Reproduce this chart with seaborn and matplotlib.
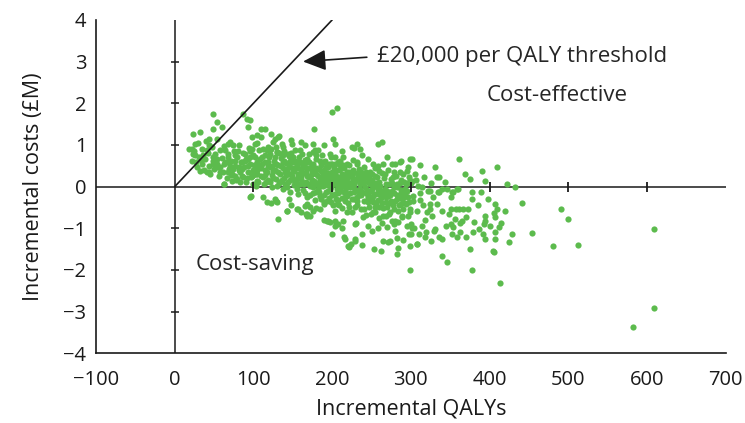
import matplotlib
matplotlib.use("Agg")
import matplotlib.pyplot as plt
import pandas as pd
import seaborn as sns

sns.set_style("white")
plt.rcParams['font.family'] = ['Open Sans', 'DejaVu Sans']

GREEN = "#5CBB4D"
INK = "#1a1a1a"

# simulated (QALY, cost £M) pairs, by region of the plane
left_cloud = [
    (48, 1.75), (53, 1.56), (60, 1.42), (48, 1.39), (32, 1.30), (23, 1.27), (26, 1.03), (18, 0.91),
    (22, 0.89), (23, 0.79), (26, 0.75), (27, 0.58), (33, 0.63), (36, 0.75), (41, 0.87), (43, 0.99),
    (44, 1.13), (32, 0.38), (41, 0.36), (44, 0.36), (49, 0.55), (54, 0.46), (49, 0.70), (54, 0.67),
    (58, 0.34), (62, 0.07), (64, 0.87), (68, 1.03), (74, 0.99), (77, 0.75), (87, 1.73), (92, 1.63),
    (93, 1.44), (96, 1.59), (66, 0.58), (70, 0.50), (74, 0.43), (81, 0.46), (86, 0.58), (68, 0.34),
    (77, 0.26), (83, 0.34), (87, 0.22), (73, 0.14), (79, 0.19), (83, 0.10), (89, 0.79), (93, 0.67),
    (98, 0.91), (102, 1.03), (105, 1.23), (98, 1.18), (93, 0.50), (100, 0.38), (105, 0.46), (98, 0.26),
    (105, 0.14), (100, 0.07), (96, -0.24), (63, 0.07),
    (22, 0.62), (25, 0.85), (28, 0.48), (30, 1.05), (31, 0.72), (34, 0.55), (35, 0.90), (37, 0.40),
    (39, 0.66), (40, 1.10), (42, 0.80), (44, 0.50), (45, 0.30), (47, 0.95), (48, 0.62), (50, 0.42),
    (51, 0.78), (53, 1.15), (54, 0.55), (56, 0.25), (57, 0.88), (58, 0.48), (60, 0.68), (61, 0.35),
    (63, 0.98), (64, 0.58), (66, 0.20), (67, 0.78), (69, 0.42), (70, 1.08), (72, 0.62), (73, 0.30),
    (75, 0.86), (76, 0.50), (78, 0.15), (79, 0.70), (81, 0.40), (82, 1.00), (84, 0.58), (85, 0.25),
    (87, 0.80), (88, 0.46), (90, 0.10), (91, 0.66), (93, 0.35), (94, 0.92), (96, 0.55), (97, 0.22),
    (99, 0.75), (100, 0.40),
]

upper_scatter = [
    (200, 1.80), (206, 1.88), (177, 1.37), (201, 1.15), (203, 1.01), (109, 1.39), (115, 1.39), (122, 1.27),
    (127, 1.15), (131, 1.18), (125, 1.06), (136, 1.03), (138, 0.94), (149, 1.03), (160, 1.06), (166, 0.99),
    (176, 1.03), (178, 0.87), (182, 0.87), (187, 0.75), (112, 0.91), (117, 0.87), (121, 0.79), (130, 0.82),
    (138, 0.75), (144, 0.79), (150, 0.70), (162, 0.79), (168, 0.67), (197, 0.79), (203, 0.70), (207, 0.58),
    (200, 0.55), (194, 0.46), (232, 1.03), (235, 0.91), (225, 0.94), (258, 1.03), (263, 1.06), (214, 0.70),
    (219, 0.55), (226, 0.63), (232, 0.55), (238, 0.75), (245, 0.67), (252, 0.55), (258, 0.50), (265, 0.55),
    (276, 0.55), (280, 0.55), (286, 0.60), (301, 0.67), (295, 0.38), (286, 0.34), (277, 0.22),
    (105, 1.05), (110, 1.20), (118, 0.95), (133, 1.22), (148, 1.12), (153, 0.88), (190, 1.00), (212, 0.85),
    (228, 0.92), (270, 0.72), (288, 0.62), (296, 0.48),
]

core_band = [
    (101, 0.52), (104, 0.31), (106, 0.12), (108, 0.66), (110, 0.44), (112, 0.22), (113, 0.05), (115, 0.58),
    (117, 0.36), (118, 0.15), (120, 0.72), (121, 0.48), (123, 0.27), (124, -0.02), (126, 0.61), (127, 0.39),
    (129, 0.18), (130, 0.83), (131, 0.52), (132, 0.08), (134, 0.30), (135, 0.68), (137, 0.44), (138, -0.06),
    (139, 0.20), (141, 0.57), (142, 0.35), (144, 0.11), (145, 0.74), (146, 0.46), (147, -0.12), (149, 0.25),
    (150, 0.60), (151, 0.03), (152, 0.38), (154, 0.15), (155, 0.51), (156, -0.18), (157, 0.29), (158, 0.70),
    (159, 0.07), (160, 0.42), (161, 0.19), (162, 0.56), (163, -0.08), (165, 0.33), (166, 0.64), (167, 0.10),
    (168, -0.24), (169, 0.45), (170, 0.22), (171, 0.78), (172, 0.01), (174, 0.37), (175, -0.15), (176, 0.55),
    (177, 0.14), (178, -0.32), (179, 0.30), (180, 0.66), (181, 0.06), (182, -0.05), (183, 0.43), (184, 0.20),
    (185, -0.22), (186, 0.52), (187, 0.09), (188, 0.33), (189, -0.38), (190, 0.15), (191, 0.61), (192, -0.12),
    (193, 0.28), (194, 0.04), (195, 0.47), (196, -0.27), (197, 0.18), (198, 0.72), (199, -0.02), (200, 0.36),
    (201, -0.45), (202, 0.10), (203, 0.54), (204, -0.18), (205, 0.25), (206, -0.06), (207, 0.40), (208, -0.33),
    (209, 0.13), (210, 0.62), (211, -0.10), (212, 0.30), (213, -0.52), (214, 0.02), (215, 0.45), (216, -0.25),
    (217, 0.19), (218, -0.04), (219, 0.35), (220, -0.40), (221, 0.08), (222, 0.52), (223, -0.16), (224, 0.26),
    (225, -0.60), (226, -0.02), (227, 0.40), (228, -0.30), (229, 0.14), (230, -0.08), (231, 0.58), (232, -0.45),
    (233, 0.22), (234, -0.20), (235, 0.05), (236, 0.35), (237, -0.55), (238, -0.12), (239, 0.18), (240, -0.35),
    (241, 0.46), (242, -0.02), (243, -0.68), (244, 0.28), (245, -0.22), (246, 0.10), (247, -0.48), (248, 0.36),
    (249, -0.10), (250, -0.30), (251, 0.16), (252, -0.62), (253, 0.02), (254, 0.44), (255, -0.18), (256, -0.40),
    (257, 0.24), (258, -0.05), (259, -0.75), (260, 0.12), (262, -0.28), (263, 0.32), (265, -0.52), (266, -0.12),
    (268, 0.06), (269, -0.38), (271, 0.40), (272, -0.66), (274, -0.20), (275, 0.18), (277, -0.45), (278, -0.02),
    (280, -0.82), (281, 0.26), (283, -0.30), (284, -0.58), (286, 0.08), (287, -0.15), (289, -0.72), (290, 0.30),
    (292, -0.40), (293, -0.05), (295, -0.95), (296, -0.25), (298, 0.12), (299, -0.60),
]

core_fill = [
    (96, 0.85), (99, 0.28), (102, 0.70), (103, 0.02), (105, 0.40), (107, 0.88), (109, 0.25), (111, 0.55),
    (114, 0.75), (116, 0.10), (119, 0.50), (122, 0.90), (125, 0.20), (128, 0.55), (130, 0.02), (133, 0.80),
    (136, 0.15), (139, 0.62), (140, 0.36), (143, -0.02), (145, 0.50), (148, 0.80), (150, 0.18), (153, 0.62),
    (155, -0.05), (157, 0.45), (159, 0.88), (161, 0.33), (164, 0.05), (166, 0.48), (168, 0.25), (170, 0.60),
    (172, -0.20), (174, 0.15), (176, 0.82), (178, 0.42), (180, -0.12), (182, 0.26), (184, 0.62), (186, -0.30),
    (188, 0.02), (190, 0.40), (192, 0.20), (194, -0.35), (196, 0.55), (198, 0.08), (200, -0.20), (202, 0.44),
    (204, 0.16), (206, -0.42), (208, 0.24), (210, 0.00), (212, -0.28), (214, 0.52), (216, 0.08), (218, -0.15),
    (220, 0.22), (222, -0.50), (224, 0.05), (226, 0.32), (228, -0.12), (230, 0.15), (232, -0.35), (234, 0.42),
    (236, -0.20), (238, 0.08), (240, -0.55), (242, 0.22), (244, -0.08), (246, -0.38), (248, 0.05), (250, 0.30),
    (252, -0.22), (254, -0.50), (256, 0.08), (258, -0.32), (260, 0.38), (262, -0.10), (264, -0.70), (266, 0.20),
    (268, -0.25), (270, -0.48), (272, 0.05), (274, -0.62), (276, -0.10), (278, 0.35), (280, -0.35), (282, -0.02),
    (284, -0.85), (286, -0.22), (288, 0.15), (290, -0.55), (292, -0.18), (294, 0.05), (296, -0.70), (298, -0.38),
    (300, 0.08), (141, 0.28), (146, 0.15), (151, 0.44), (156, 0.22), (162, 0.10), (167, 0.36), (173, 0.28),
    (177, 0.05), (183, 0.10), (187, 0.24), (193, 0.12), (197, -0.08), (201, 0.22), (206, 0.06), (211, 0.18),
    (215, -0.12), (219, 0.10), (223, -0.02), (227, 0.20), (231, -0.25), (235, -0.05), (239, 0.28), (243, -0.15),
    (247, 0.20), (251, -0.05), (255, 0.02), (259, -0.18), (263, -0.40), (267, -0.05), (271, -0.22), (275, -0.35),
    (279, -0.15), (283, 0.05), (287, -0.42), (291, -0.25), (295, -0.10), (185, 0.02), (195, 0.32), (205, -0.30),
    (215, 0.28), (225, 0.12), (235, 0.22), (245, -0.28), (255, -0.60), (165, -0.15), (175, -0.02), (155, 0.05),
    (145, 0.30), (135, 0.50), (125, 0.38), (115, 0.28), (105, 0.60),
]

core_dense = [
    (62, 0.55), (68, 0.70), (71, 0.28), (76, 0.62), (80, 0.85), (85, 0.42), (89, 0.62), (92, 0.20),
    (95, 0.72), (103, 0.30), (107, 0.50), (111, 0.70), (114, 0.40), (118, 0.60), (121, 0.10), (124, 0.50),
    (127, 0.72), (131, 0.35), (134, 0.12), (137, 0.58), (140, 0.05), (143, 0.42), (147, 0.62), (150, 0.38),
    (153, 0.10), (156, 0.58), (160, 0.25), (163, 0.48), (167, 0.58), (170, 0.05), (173, 0.48), (177, 0.32),
    (180, 0.45), (183, -0.12), (186, 0.38), (189, 0.15), (192, 0.48), (195, -0.10), (198, 0.28), (201, 0.05),
    (204, 0.35), (207, -0.15), (210, 0.42), (213, 0.08), (216, -0.35), (219, -0.22), (222, 0.35), (225, -0.30),
    (228, 0.05), (231, 0.32), (234, -0.10), (237, 0.15), (240, 0.10), (243, 0.35), (246, -0.15), (249, 0.12),
    (252, -0.38), (255, 0.25), (258, -0.15), (261, 0.02), (264, -0.22), (267, 0.30), (270, -0.10), (273, -0.40),
    (276, 0.08), (279, -0.55), (282, -0.20), (285, -0.45), (288, -0.08), (291, 0.10), (294, -0.42), (297, 0.22),
    (189, -0.20), (199, -0.38), (209, -0.45), (219, -0.60), (229, -0.48), (239, -0.72), (249, -0.65), (259, -0.50),
    (269, -0.70), (279, -0.90), (289, -0.30), (199, 0.55), (209, 0.55), (189, 0.60), (179, 0.75), (159, 0.60),
    (139, 0.85), (129, 0.95),
]

lower_scatter = [
    (117, -0.38), (127, -0.29), (130, -0.38), (143, -0.58), (131, -0.77), (155, -0.53), (166, -0.46), (168, -0.65),
    (176, -0.58), (172, -0.50), (185, -0.53), (189, -0.41), (194, -0.82), (197, -0.84), (200, -1.13), (204, -0.94),
    (204, -0.58), (97, -0.22), (128, -0.34), (142, -0.58), (157, -0.55), (145, -0.31), (168, -0.41), (167, -0.67),
    (168, -0.70), (195, -0.82), (204, -0.82), (214, -0.82), (213, -1.00), (216, -1.25), (229, -0.89), (229, -1.30),
    (222, -1.42), (251, -1.06), (253, -1.49), (274, -1.30), (280, -1.06), (284, -1.47), (282, -1.23), (299, -1.42),
    (308, -1.37), (299, -2.00), (263, -0.87), (276, -0.82), (289, -0.70), (215, -1.22), (220, -1.42), (224, -1.37),
    (229, -1.27), (271, -1.32), (300, -1.15), (318, -1.20), (221, -1.44), (112, -0.25), (122, -0.40), (148, -0.45),
    (160, -0.62), (172, -0.70), (180, -0.52), (190, -0.80), (208, -0.90), (230, -0.88), (238, -1.15), (245, -0.95),
    (258, -1.00), (265, -1.30), (270, -0.98), (290, -1.28), (297, -1.15), (262, -1.55), (238, -1.40), (283, -1.62),
]

right_cloud = [
    (299, 0.67), (301, 0.14), (303, -0.22), (303, -0.34), (308, -0.58), (300, -0.89), (304, -0.99), (299, -0.53),
    (309, 0.02), (314, 0.00), (317, 0.22), (331, 0.46), (333, 0.22), (336, 0.22), (322, -0.10), (336, -0.12),
    (340, -0.07), (346, -0.05), (352, -0.12), (360, -0.07), (378, -0.14), (389, -0.14), (378, -0.29), (351, -0.26),
    (354, -0.12), (358, -0.05), (335, -0.14), (324, -0.10), (324, -0.41), (324, -0.53), (327, -0.70), (333, -0.41),
    (340, -0.58), (348, -0.65), (351, -0.53), (357, -0.53), (361, -0.55), (366, -0.55), (372, -0.53), (345, -0.94),
    (351, -0.89), (354, -0.96), (352, -1.15), (359, -1.20), (362, -1.08), (356, -0.79), (362, -0.87), (365, -0.82),
    (370, -0.72), (370, -1.20), (330, -1.06), (336, -1.20), (340, -1.25), (340, -1.66), (346, -1.80), (314, -0.94),
    (319, -1.08), (331, -1.03), (308, -1.39), (369, 0.31), (375, 0.17), (391, 0.38), (394, 0.14), (361, 0.67),
    (410, 0.46), (422, 0.05), (432, 0.00), (380, -0.84), (379, -1.10), (375, -1.49), (378, -2.00), (386, -1.03),
    (392, -1.13), (394, -1.27), (394, -0.70), (393, -0.89), (394, -0.82), (400, -0.94), (407, -0.41), (409, -0.53),
    (406, -0.63), (407, -0.72), (412, -0.96), (415, -0.87), (407, -1.08), (407, -1.27), (405, -1.54), (406, -1.56),
    (420, -0.58), (425, -1.33), (429, -1.14), (413, -2.31), (441, -0.39), (454, -1.11), (311, -0.32), (316, -0.45),
    (320, -0.62), (328, -0.25), (312, -0.15), (318, -0.80), (305, 0.30), (312, 0.52), (326, 0.08), (343, 0.10),
    (385, -0.45), (398, -0.30), (302, -1.00), (310, -1.15), (326, -1.30), (306, 0.15),
]

far_tail = [(491, -0.53), (500, -0.77), (481, -1.42), (512, -1.41), (609, -1.03), (609, -2.91), (582, -3.37)]

x_ticks = [-100, 0, 100, 200, 300, 400, 500, 600, 700]
y_ticks = [-4, -3, -2, -1, 0, 1, 2, 3, 4]
threshold = 0.02  # £M per QALY, i.e. £20,000

points = (left_cloud + upper_scatter + core_band + core_fill + core_dense
          + lower_scatter + right_cloud + far_tail)
df = pd.DataFrame(points, columns=["qaly", "cost"])

fig = plt.figure(figsize=(7.45, 4.23), dpi=100)
ax = fig.add_axes([0.129, 0.165, 0.845, 0.788])

ax.axhline(0, color=INK, lw=1.1, zorder=1)
ax.axvline(0, color=INK, lw=1.1, zorder=1)
sns.scatterplot(data=df, x="qaly", y="cost", color=GREEN, s=20, linewidth=0, ax=ax, zorder=2)

# cross ticks on the zero lines (Excel style)
inner_x = [t for t in x_ticks if 0 < t < 700]
inner_y = [t for t in y_ticks if -4 < t < 4 and t != 0]
ax.plot(inner_x, [0] * len(inner_x), ls="", marker="|", ms=7, mew=1.3, color=INK, zorder=3)
ax.plot([0] * len(inner_y), inner_y, ls="", marker="_", ms=6, mew=1.1, color=INK, zorder=3)

# willingness-to-pay line
ax.plot([0, 4 / threshold], [0, 4], color=INK, lw=1.2, zorder=3)

ax.annotate("£20,000 per QALY threshold", xy=(163, 3.0), xytext=(257, 3.12),
            fontsize=16, va="center", ha="left",
            arrowprops=dict(arrowstyle="-|>,head_length=0.7,head_width=0.32", mutation_scale=20,
                            color=INK, lw=1.2, relpos=(0, 0.5), shrinkA=5, shrinkB=0))
ax.text(486, 2.19, "Cost-effective", fontsize=16, ha="center", va="center")
ax.text(27, -1.87, "Cost-saving", fontsize=16, ha="left", va="center")

ax.set_xlim(-100, 700)
ax.set_ylim(-4, 4)
ax.set_xticks(x_ticks)
ax.set_yticks(y_ticks)
ax.set_xticklabels([str(t).replace("-", "\u2212") for t in x_ticks])
ax.set_yticklabels([str(t).replace("-", "\u2212") for t in y_ticks])
ax.tick_params(length=0, labelsize=14.5, colors=INK)
ax.tick_params(axis="x", pad=12)
ax.tick_params(axis="y", pad=7)

ax.set_xlabel("Incremental QALYs", fontsize=15.5, color=INK, labelpad=6)
ax.set_ylabel("Incremental costs (£M)", fontsize=15.5, color=INK, labelpad=14)

sns.despine(ax=ax)
for side in ["left", "bottom"]:
    ax.spines[side].set_color(INK)
    ax.spines[side].set_linewidth(1.2)

fig.savefig("out.png", dpi=100)
